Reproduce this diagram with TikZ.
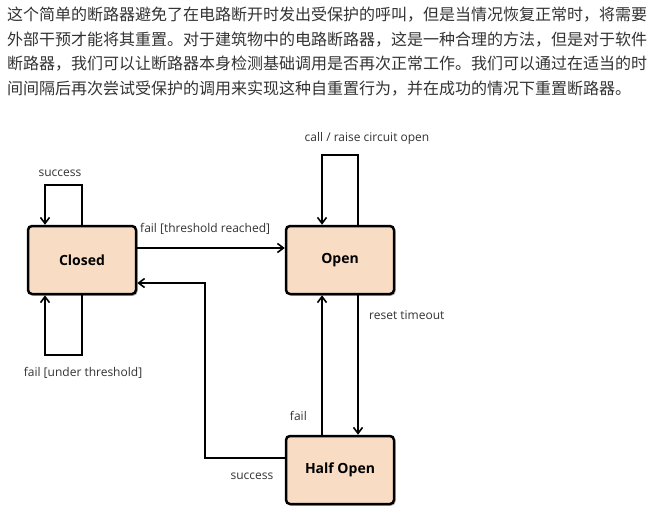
\documentclass[tikz,border=0pt]{standalone}
\usepackage{fontspec}
\setmainfont{Open Sans}
\newfontfamily\cjk{Noto Sans CJK SC}
\usetikzlibrary{arrows.meta,shadows,calc}
\definecolor{boxfill}{HTML}{F9DCC4}
\definecolor{txt}{HTML}{333333}
\tikzset{
  state/.style={draw=black, line width=2.5pt, fill=boxfill, rounded corners=4pt,
    minimum width=108pt, minimum height=68pt, inner sep=0pt,
    font=\fontsize{14}{16}\selectfont\bfseries, text=black,
    drop shadow={shadow xshift=1.5pt, shadow yshift=-1.8pt, fill=black!45, opacity=0.6}},
  arr/.style={draw=black, line width=2pt, -{Straight Barb[length=6pt,width=9pt,line width=1.6pt]}},
  lbl/.style={font=\fontsize{12}{14}\selectfont, text=txt, inner sep=0pt},
  para/.style={font=\cjk\fontsize{16}{18}\selectfont, text=txt, anchor=west, inner sep=0pt}
}
\begin{document}
\begin{tikzpicture}[x=1pt,y=-1pt]
\useasboundingbox[fill=white] (0,0) rectangle (654,527);
% paragraph
\node[para] (p1) at (7,15) {这个简单的断路器避免了在电路断开时发出受保护的呼叫，但是当情况恢复正常时，将需要};
\node[para] (p2) at (7,40) {外部干预才能将其重置。对于建筑物中的电路断路器，这是一种合理的方法，但是对于软件};
\node[para] (p3) at (7,64) {断路器，我们可以让断路器本身检测基础调用是否再次正常工作。我们可以通过在适当的时};
\node[para] (p4) at (7,89) {间间隔后再次尝试受保护的调用来实现这种自重置行为，并在成功的情况下重置断路器。};
% states
\node[state] (closed) at (82,260) {Closed};
\node[state] (open) at (340,260) {Open};
\node[state] (half) at (340,470) {Half Open};
% closed loops
\draw[arr] (closed.north) -- ++(0,-40) -| ([xshift=-37pt]closed.north);
\node[lbl] (lsucc1) at (60,173) {success};
\draw[arr] (closed.south) -- ++(0,60) -| ([xshift=-37pt]closed.south);
\node[lbl] (lunder) at (83,373) {fail [under threshold]};
% closed -> open
\draw[arr] ([yshift=12pt]closed.east) -- ([yshift=12pt]open.west);
\node[lbl, anchor=west] (lthr) at (140,229) {fail [threshold reached]};
% open loop
\draw[arr] ([xshift=18pt]open.north) -- ++(0,-70) -| ([xshift=-18pt]open.north);
\node[lbl] (lcall) at (367,138) {call / raise circuit open};
% open -> half
\draw[arr] ([xshift=18pt]open.south) -- ([xshift=18pt]half.north);
\node[lbl, anchor=west] (lreset) at (369,315) {reset timeout};
% half -> open
\draw[arr] ([xshift=-18pt]half.north) -- ([xshift=-18pt]open.south);
\node[lbl, anchor=east] (lfail) at (307,416) {fail};
% half -> closed
\draw[arr] ([yshift=12pt]half.west) -- ++(-80,0) |- ([yshift=-23pt]closed.east);
\node[lbl] (lsucc2) at (252,476) {success};
\end{tikzpicture}
\end{document}
